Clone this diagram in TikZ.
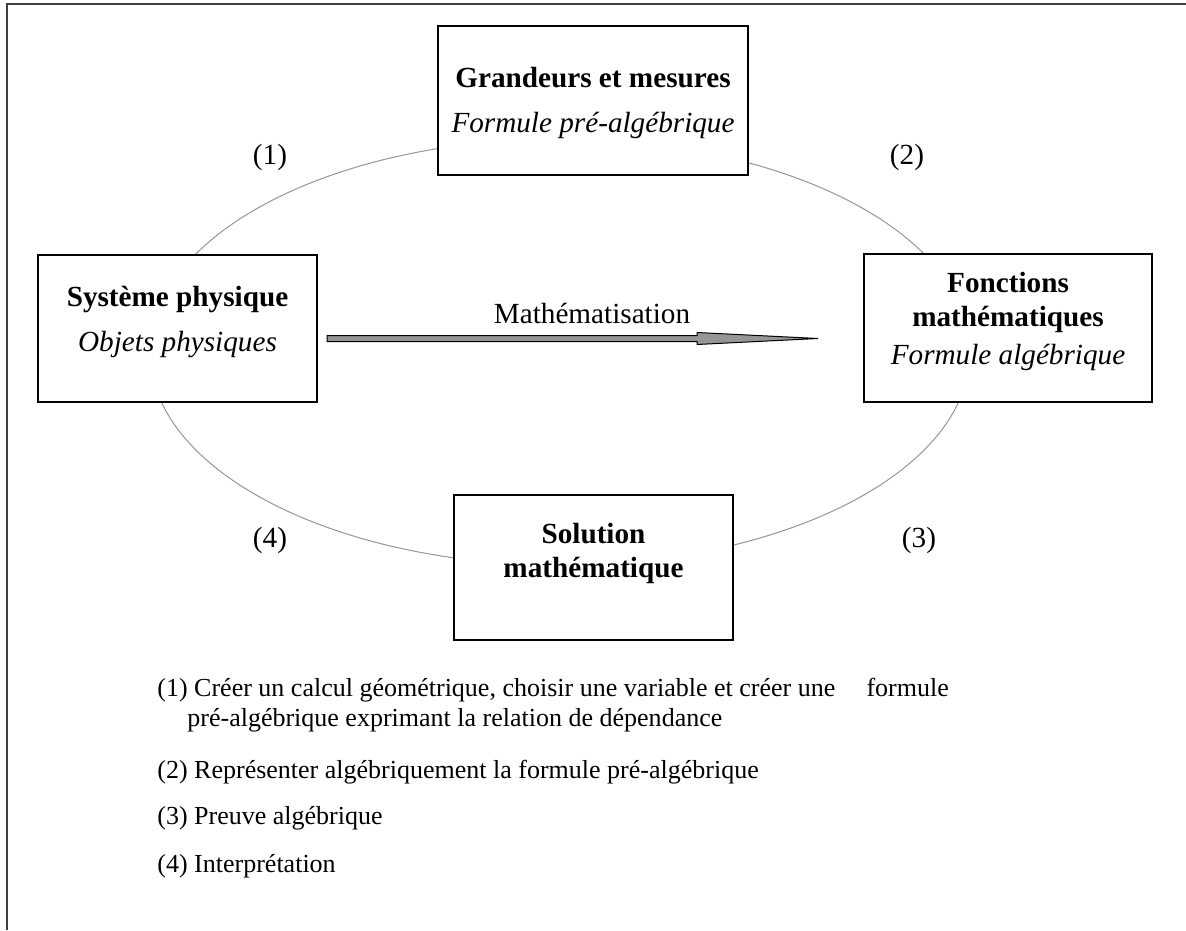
\documentclass[tikz,border=0pt]{standalone}
\usepackage{fontspec}
\setmainfont{Liberation Serif}
\definecolor{ringgray}{RGB}{150,150,150}
\definecolor{framegray}{RGB}{64,64,64}
\definecolor{arrowgray}{RGB}{150,150,150}

\begin{document}
\begin{tikzpicture}[x=0.5pt,y=-0.5pt]
        \tikzset{box/.style={draw=black, fill=white, line width=0.7pt, inner sep=0pt},
                 title/.style={font=\fontsize{14.6}{17}\selectfont\bfseries, align=center, inner sep=0pt},
                 sub/.style={font=\fontsize{14.6}{17}\selectfont\itshape, inner sep=0pt},
                 num/.style={font=\fontsize{14.6}{17}\selectfont, inner sep=0pt},
                 item/.style={font=\fontsize{13}{15}\selectfont, anchor=west, align=left, inner sep=0pt},
                 ring/.style={draw=ringgray, line width=0.5pt},
                 frame/.style={draw=framegray, line width=0.75pt},
                 matharrow/.style={draw=black, fill=arrowgray, line width=0.5pt, line join=miter}};
        \useasboundingbox (0,0) rectangle (1186,930);
        \draw[frame] (1186,4) -- (7,4) -- (7,930);

        \draw[ring] (560,352) ellipse [x radius=410, y radius=213];

        \node[box, minimum width=155pt, minimum height=74.5pt] (gm) at (593,100.5) {};
        \node[title] (gm-t) at (593,78) {Grandeurs et mesures};
        \node[sub] (gm-s) at (593,125) {Formule pré-algébrique};

        \node[box, minimum width=139.5pt, minimum height=73.5pt] (sp) at (177.5,328.5) {};
        \node[title] (sp-t) at (177.5,300) {Système physique};
        \node[sub] (sp-s) at (177.5,345) {Objets physiques};

        \node[box, minimum width=144pt, minimum height=74pt] (fm) at (1008,328) {};
        \node[title] (fm-t) at (1008,302) {Fonctions\\mathématiques};
        \node[sub] (fm-s) at (1008,357) {Formule algébrique};

        \node[box, minimum width=139.5pt, minimum height=72.5pt] (sm) at (593.5,567.5) {};
        \node[title] (sm-t) at (593.5,553) {Solution\\mathématique};

        \node[num] (l1) at (270,157) {(1)};
        \node[num] (l2) at (907,157) {(2)};
        \node[num] (l3) at (919,540) {(3)};
        \node[num] (l4) at (270,540) {(4)};

        \coordinate (arr-s) at (327,338.5);
        \coordinate (arr-e) at (818,338.5);
        \draw[matharrow] (arr-s) ++(0,-3) -- ++(370,0) -- ++(0,-3) -- (arr-e)
            -- ++(-121,6) -- ++(0,-3) -- ++(-370,0) -- cycle;
        \node[num] (math) at (592,313) {Mathématisation};

        \node[item] (it1) at (157,705) {(1) Créer un calcul géométrique, choisir une variable et créer une\hspace{1.2em}formule\\\hspace*{15pt}pré-algébrique exprimant la relation de dépendance};
        \node[item] (it2) at (157,772) {(2) Représenter algébriquement la formule pré-algébrique};
        \node[item] (it3) at (157,818) {(3) Preuve algébrique};
        \node[item] (it4) at (157,866) {(4) Interprétation};
    \end{tikzpicture}
\end{document}
